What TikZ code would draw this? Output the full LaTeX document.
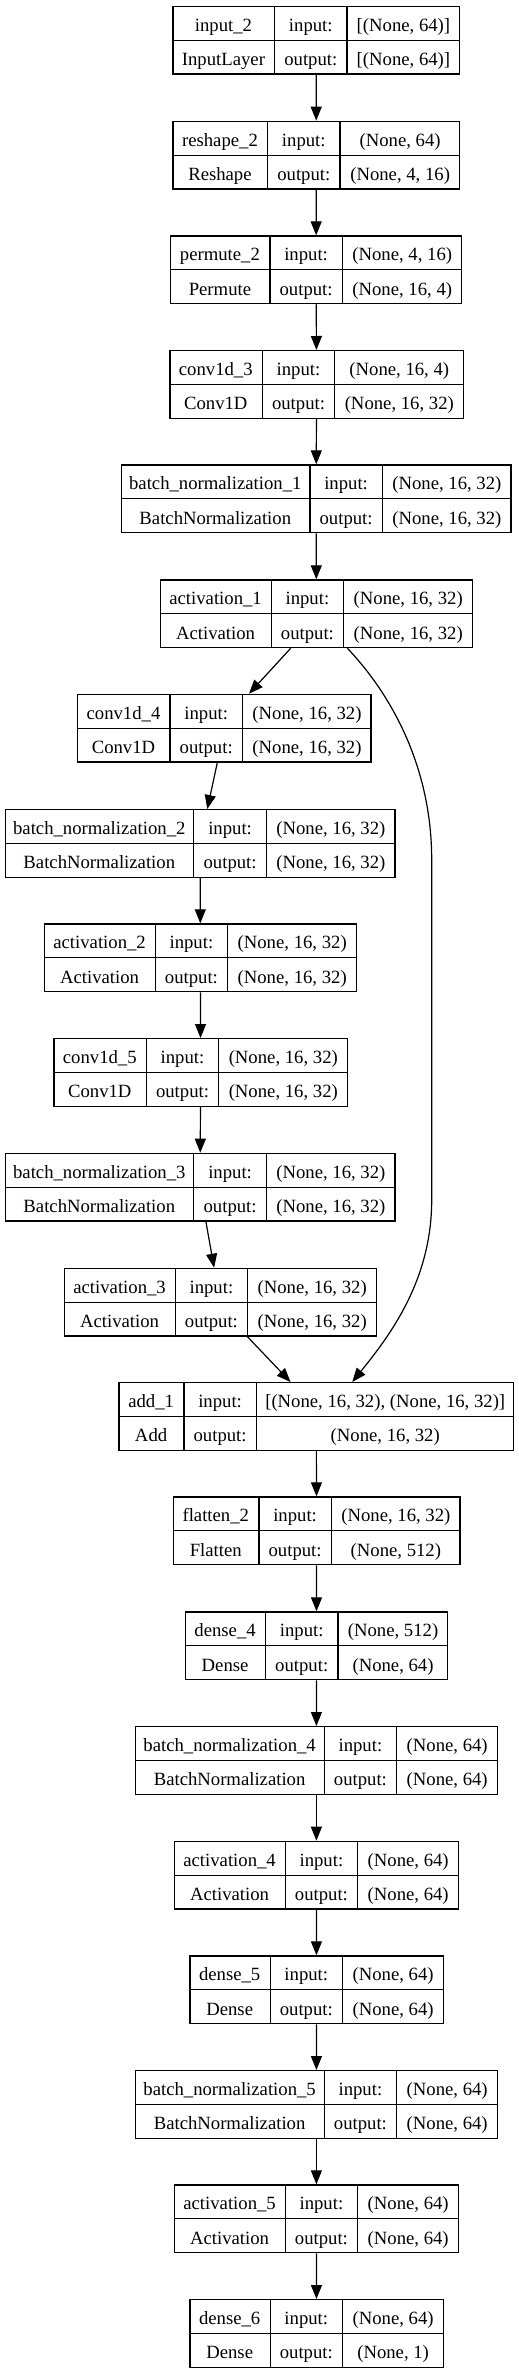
\documentclass[tikz,border=0pt]{standalone}
\usepackage{fontspec}
\setmainfont{Liberation Serif}
\usepackage{array}
\usetikzlibrary{arrows.meta}

\setlength{\tabcolsep}{0pt}
\setlength{\arrayrulewidth}{1.2pt}
\setlength{\extrarowheight}{4.2pt}
\renewcommand{\arraystretch}{1.27}

% one layer: name/type | input:/output: | shapes
\newcommand{\klayer}[6]{%
  \begin{tabular}{w{c}{#1pt}|w{c}{71.2pt}|w{c}{#2pt}}
    #3 & input: & #5 \\ \hline
    #4 & output: & #6
  \end{tabular}}

\tikzset{
  layer/.style={draw, line width=1.2pt, inner sep=0pt, anchor=north west,
    font=\fontsize{18.7}{22}\selectfont},
  arr/.style={-{Triangle[length=14pt,width=11pt]}, line width=1.2pt}
}

\begin{document}
\begin{tikzpicture}[x=1pt,y=1pt]
    \fill[white] (0,0) rectangle (519,-2371);
    \useasboundingbox (0,0) rectangle (519,-2371);
    % main column
    \node[layer] (inp2) at (172.3,-5.7) {\klayer{101.1}{111.7}{input\_2}{InputLayer}{[(None, 64)]}{[(None, 64)]}};
    \node[layer] (resh2) at (172.3,-120.7) {\klayer{94.1}{119.1}{reshape\_2}{Reshape}{(None, 64)}{(None, 4, 16)}};
    \node[layer] (perm2) at (170,-235.3) {\klayer{98.7}{118.7}{permute\_2}{Permute}{(None, 4, 16)}{(None, 16, 4)}};
    \node[layer] (conv3) at (169.3,-350) {\klayer{91.8}{128}{conv1d\_3}{Conv1D}{(None, 16, 4)}{(None, 16, 32)}};
    \node[layer] (bn1) at (120.7,-464.3) {\klayer{188}{128}{batch\_normalization\_1}{BatchNormalization}{(None, 16, 32)}{(None, 16, 32)}};
    \node[layer] (act1) at (160,-579.3) {\klayer{110}{128}{activation\_1}{Activation}{(None, 16, 32)}{(None, 16, 32)}};
    % residual branch
    \node[layer] (conv4) at (77,-693.7) {\klayer{91.8}{128}{conv1d\_4}{Conv1D}{(None, 16, 32)}{(None, 16, 32)}};
    \node[layer] (bn2) at (4.7,-809) {\klayer{188}{128}{batch\_normalization\_2}{BatchNormalization}{(None, 16, 32)}{(None, 16, 32)}};
    \node[layer] (act2) at (44,-923.3) {\klayer{110}{128}{activation\_2}{Activation}{(None, 16, 32)}{(None, 16, 32)}};
    \node[layer] (conv5) at (53.3,-1038) {\klayer{91.8}{128}{conv1d\_5}{Conv1D}{(None, 16, 32)}{(None, 16, 32)}};
    \node[layer] (bn3) at (4.7,-1152.7) {\klayer{188}{128}{batch\_normalization\_3}{BatchNormalization}{(None, 16, 32)}{(None, 16, 32)}};
    \node[layer] (act3) at (64,-1267.7) {\klayer{110}{128}{activation\_3}{Activation}{(None, 16, 32)}{(None, 16, 32)}};
    % after the add
    \node[layer] (add1) at (118.3,-1382) {\klayer{64.4}{256.7}{add\_1}{Add}{[(None, 16, 32), (None, 16, 32)]}{(None, 16, 32)}};
    \node[layer] (flat2) at (172.7,-1496.3) {\klayer{85}{128}{flatten\_2}{Flatten}{(None, 16, 32)}{(None, 512)}};
    \node[layer] (dense4) at (184.7,-1611.3) {\klayer{79.6}{109.1}{dense\_4}{Dense}{(None, 512)}{(None, 64)}};
    \node[layer] (bn4) at (135,-1726) {\klayer{188}{100}{batch\_normalization\_4}{BatchNormalization}{(None, 64)}{(None, 64)}};
    \node[layer] (act4) at (174,-1840.7) {\klayer{110}{100}{activation\_4}{Activation}{(None, 64)}{(None, 64)}};
    \node[layer] (dense5) at (189.3,-1955.3) {\klayer{79.6}{100}{dense\_5}{Dense}{(None, 64)}{(None, 64)}};
    \node[layer] (bn5) at (135,-2070) {\klayer{188}{100}{batch\_normalization\_5}{BatchNormalization}{(None, 64)}{(None, 64)}};
    \node[layer] (act5) at (174,-2184.3) {\klayer{110}{100}{activation\_5}{Activation}{(None, 64)}{(None, 64)}};
    \node[layer] (dense6) at (189.3,-2299) {\klayer{79.6}{100}{dense\_6}{Dense}{(None, 64)}{(None, 1)}};
    \coordinate (skipa) at (431.7,-860);
    \coordinate (skipb) at (431.7,-1200);
    \draw [arr] (inp2) -- (resh2);
    \draw [arr] (resh2) -- (perm2);
    \draw [arr] (perm2) -- (conv3);
    \draw [arr] (conv3) -- (bn1);
    \draw [arr] (bn1) -- (act1);
    \draw [arr] ([xshift=-25.7pt]act1.south) -- ([xshift=24.7pt]conv4.north);
    \draw [arr] ([xshift=-7pt]conv4.south) -- ([xshift=7.2pt]bn2.north);
    \draw [arr] (bn2) -- (act2);
    \draw [arr] (act2) -- (conv5);
    \draw [arr] (conv5) -- (bn3);
    \draw [arr] ([xshift=5.8pt]bn3.south) -- ([xshift=-6.3pt]act3.north);
    \draw [arr] ([xshift=27pt]act3.south) -- ([xshift=-25.7pt]add1.north);
    \draw [arr] ([xshift=31pt]act1.south) .. controls +(38,-40) and +(0,100) .. (skipa)
      -- (skipb) .. controls +(0,-80) and +(38,47) .. ([xshift=36pt]add1.north);
    \draw [arr] (add1) -- (flat2);
    \draw [arr] (flat2) -- (dense4);
    \draw [arr] (dense4) -- (bn4);
    \draw [arr] (bn4) -- (act4);
    \draw [arr] (act4) -- (dense5);
    \draw [arr] (dense5) -- (bn5);
    \draw [arr] (bn5) -- (act5);
    \draw [arr] (act5) -- (dense6);
\end{tikzpicture}
\end{document}
